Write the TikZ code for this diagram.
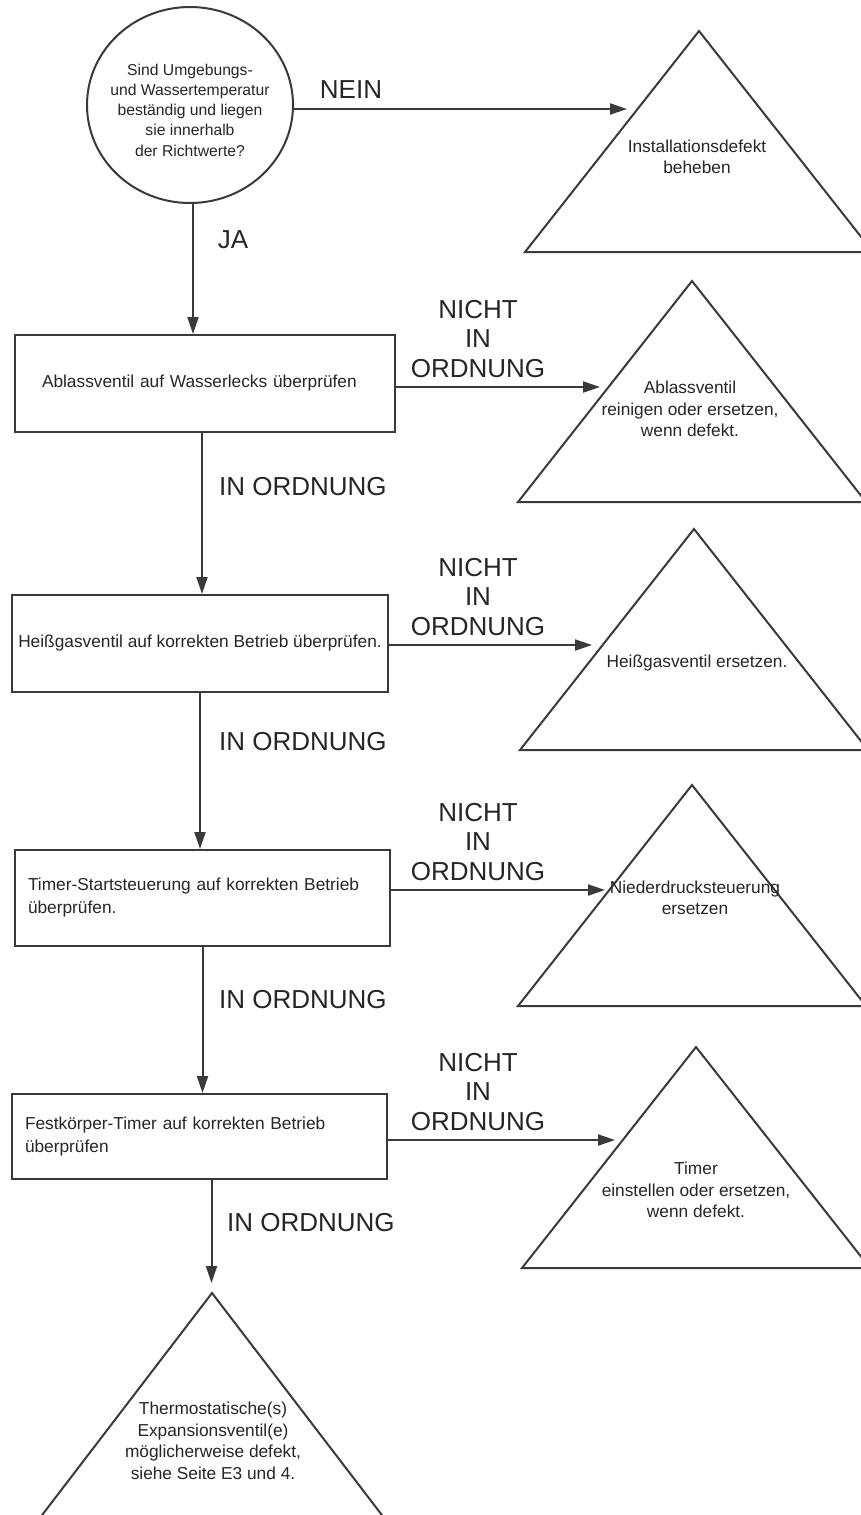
\documentclass[tikz,border=0pt]{standalone}
\usepackage{fontspec}
\setmainfont{Liberation Sans}
\usetikzlibrary{arrows.meta,shapes.geometric}
\definecolor{ink}{HTML}{3A3A3A}
\definecolor{txt}{HTML}{262626}
\begin{document}
\begin{tikzpicture}[x=1pt,y=-1pt,
  conn/.style={draw=ink,line width=2pt},
  arr/.style={conn,-{Triangle[length=17pt,width=11pt]}},
  stepbox/.style={draw=ink,line width=2pt,inner sep=0pt,text=txt,
    font=\fontsize{17.3}{23}\selectfont},
  tri/.style={draw=ink,line width=2pt,line join=miter},
  tritext/.style={text=txt,align=center,inner sep=0pt,
    font=\fontsize{17.3}{21.5}\selectfont},
  lbl/.style={text=txt,align=center,inner sep=0pt,
    font=\fontsize{26}{29.5}\selectfont},
  warn/.pic={\draw[tri] (0,0) -- (174,221) -- (-174,221) -- cycle;},
]
\fill[white] (0,0) rectangle (861,1515);
\useasboundingbox (0,0) rectangle (861,1515);

% start question: outline and its text
\node[draw=ink,line width=2pt,ellipse,minimum width=206,minimum height=196,
  inner sep=0pt] (q) at (190,105) {};
\node[text=txt,align=center,inner sep=0pt,font=\fontsize{15.7}{20.3}\selectfont]
  (qt) at (190,110) {Sind Umgebungs-\\und Wassertemperatur\\beständig und liegen\\sie innerhalb\\der Richtwerte?};

% check steps
\node[stepbox,minimum width=380,minimum height=97,text width=326,align=left]
  (b1) at (205,383.5) {Ablassventil auf Wasserlecks überprüfen};
\node[stepbox,minimum width=376,minimum height=97] (b2) at (200,643.5)
  {Heißgasventil auf korrekten Betrieb überprüfen.};
\node[stepbox,minimum width=375,minimum height=96,text width=349,align=left]
  (b3) at (202.5,898) {Timer-Startsteuerung auf korrekten Betrieb\\überprüfen.};
\node[stepbox,minimum width=375,minimum height=85,text width=349,align=left]
  (b4) at (199.5,1136.5) {Festkörper-Timer auf korrekten Betrieb\\überprüfen};

% remedies (triangles)
\pic at (699,31) {warn};
\pic at (692,281) {warn};
\pic at (694,529) {warn};
\pic at (692,785) {warn};
\pic at (696,1047) {warn};
\draw[tri] (212,1293) -- (388,1523) -- (36,1523) -- cycle;

\node[tritext] (r1) at (697,157) {Installationsdefekt\\beheben};
\node[tritext] (r2) at (690,409) {Ablassventil\\reinigen oder ersetzen,\\wenn defekt.};
\node[tritext] (r3) at (697,663) {Heißgasventil ersetzen.};
\node[tritext] (r4) at (695,898) {Niederdrucksteuerung\\ersetzen};
\node[tritext] (r5) at (696,1190) {Timer\\einstellen oder ersetzen,\\wenn defekt.};
\node[tritext] (r6) at (213,1441) {Thermostatische(s)\\Expansionsventil(e)\\möglicherweise defekt,\\siehe Seite E3 und 4.};

% arrow targets on the triangle edges
\coordinate (r1in) at (627,109);
\coordinate (r2in) at (600,387);
\coordinate (r3in) at (592,645);
\coordinate (r4in) at (605,890);
\coordinate (r5in) at (615,1140);
\coordinate (r6in) at (211.5,1283);

% connectors
\draw[arr] (q.east |- r1in) -- (r1in);
\draw[arr] (b1.east |- r2in) -- (r2in);
\draw[arr] (b2.east |- r3in) -- (r3in);
\draw[arr] (b3.east |- r4in) -- (r4in);
\draw[arr] (b4.east |- r5in) -- (r5in);

\draw[arr] ([xshift=3]q.south) -- ([xshift=3]q.south |- b1.north);
\draw[arr] ([xshift=-3]b1.south) -- ([xshift=-3]b1.south |- b2.north);
\draw[arr] (b2.south) -- (b2.south |- b3.north);
\draw[arr] (b3.south) -- (b3.south |- b4.north);
\draw[arr] (b4.south -| r6in) -- (r6in);

% branch labels
\node[lbl] (nein) at (351,90) {NEIN};
\node[lbl] (ja) at (233,240) {JA};
\node[lbl] (nok1) at (478,339) {NICHT\\IN\\ORDNUNG};
\node[lbl] (nok2) at (478,597) {NICHT\\IN\\ORDNUNG};
\node[lbl] (nok3) at (478,842) {NICHT\\IN\\ORDNUNG};
\node[lbl] (nok4) at (478,1092) {NICHT\\IN\\ORDNUNG};
\node[lbl,anchor=west] (ok1) at (219,487) {IN ORDNUNG};
\node[lbl,anchor=west] (ok2) at (219,742) {IN ORDNUNG};
\node[lbl,anchor=west] (ok3) at (219,1000) {IN ORDNUNG};
\node[lbl,anchor=west] (ok4) at (227,1223) {IN ORDNUNG};
\end{tikzpicture}
\end{document}
